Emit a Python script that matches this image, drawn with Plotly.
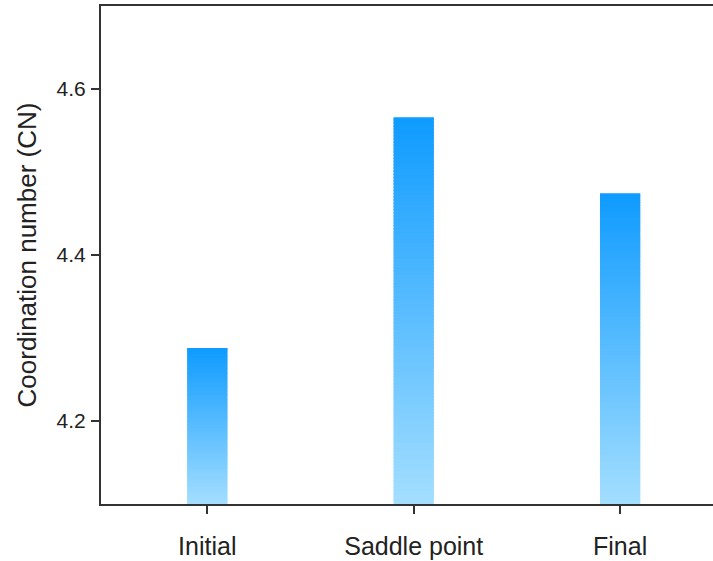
import plotly.graph_objects as go

categories = ["Initial", "Saddle point", "Final"]
cn_values = [4.288, 4.566, 4.4745]
y_base = 4.1
y_ticks = [4.2, 4.4, 4.6]
y_tick_labels = ["4.2", "4.4", "4.6"]

top_rgb = (15, 155, 255)
bottom_rgb = (163, 222, 255)
n_seg = 120

fig = go.Figure()
for k in range(n_seg):
    t = k / (n_seg - 1)
    r = round(bottom_rgb[0] + (top_rgb[0] - bottom_rgb[0]) * t)
    g = round(bottom_rgb[1] + (top_rgb[1] - bottom_rgb[1]) * t)
    b = round(bottom_rgb[2] + (top_rgb[2] - bottom_rgb[2]) * t)
    steps = [(v - y_base) / n_seg for v in cn_values]
    bases = [y_base + k * s for s in steps]
    heights = [s * (1.6 if k < n_seg - 1 else 1.0) for s in steps]
    fig.add_trace(go.Bar(
        x=categories, y=heights, base=bases, width=0.195,
        marker=dict(color=f"rgb({r},{g},{b})", line=dict(width=0)),
        showlegend=False, hoverinfo="skip",
    ))

fig.update_layout(
    width=713, height=561,
    margin=dict(l=101, r=0, t=6, b=57),
    paper_bgcolor="white", plot_bgcolor="white",
    barmode="overlay",
    font=dict(family="Liberation Sans, Arial, sans-serif", color="#222"),
)
fig.update_xaxes(
    type="category", range=[-0.515, 2.45],
    showline=True, linecolor="#333", linewidth=2, mirror=True,
    ticks="outside", ticklen=8, tickwidth=2, tickcolor="#333",
    tickfont=dict(size=25), ticklabelstandoff=11,
    showgrid=False, zeroline=False,
)
fig.update_yaxes(
    range=[y_base, 4.7],
    tickvals=y_ticks, ticktext=y_tick_labels,
    showline=True, linecolor="#333", linewidth=2,
    ticks="outside", ticklen=8, tickwidth=2, tickcolor="#333",
    tickfont=dict(size=21), ticklabelstandoff=1,
    title=dict(text="Coordination number (CN)", font=dict(size=26), standoff=12),
    showgrid=False, zeroline=False,
)
fig.write_html("out.html")
